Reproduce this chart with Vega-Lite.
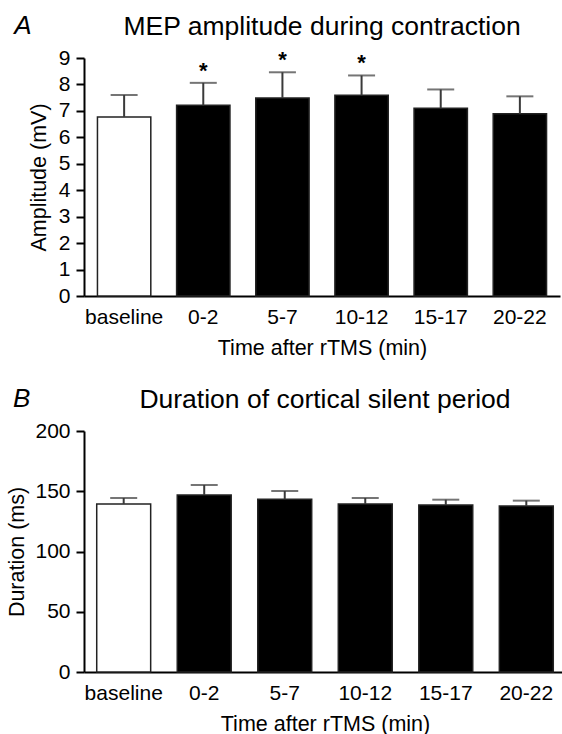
{
  "$schema": "https://vega.github.io/schema/vega-lite/v6.json",
  "background": "white",
  "padding": {"left": 6, "top": 12, "right": 0, "bottom": 0},
  "config": {
    "font": "Liberation Sans",
    "view": {"stroke": null},
    "axis": {
      "grid": false,
      "domainColor": "black",
      "domainWidth": 2,
      "tickColor": "black",
      "tickWidth": 2,
      "tickSize": 8,
      "labelColor": "black",
      "labelFont": "Liberation Sans",
      "labelFontSize": 21,
      "labelOverlap": false,
      "titleColor": "black",
      "titleFont": "Liberation Sans",
      "titleFontSize": 21.5,
      "titleFontWeight": "normal"
    },
    "axisX": {"ticks": false, "labelAngle": 0, "labelPadding": 10, "titlePadding": 10},
    "axisY": {"labelPadding": 6},
    "title": {"font": "Liberation Sans", "fontWeight": "normal", "color": "black", "fontSize": 26.5},
    "concat": {"spacing": 26}
  },
  "vconcat": [
    {
      "title": {"text": "A", "anchor": "start", "fontStyle": "italic", "fontSize": 26, "dx": -14, "dy": 29},
      "vconcat": [
        {
          "width": 476,
          "height": 238,
          "title": {"text": "MEP amplitude during contraction", "anchor": "middle", "offset": 7},
          "data": {"values": [
            {"time": "baseline", "mean": 6.77, "hi": 7.60, "sig": ""},
            {"time": "0-2", "mean": 7.21, "hi": 8.06, "sig": "*"},
            {"time": "5-7", "mean": 7.49, "hi": 8.46, "sig": "*"},
            {"time": "10-12", "mean": 7.59, "hi": 8.34, "sig": "*"},
            {"time": "15-17", "mean": 7.10, "hi": 7.81, "sig": ""},
            {"time": "20-22", "mean": 6.89, "hi": 7.55, "sig": ""}
          ]},
          "encoding": {
            "x": {"field": "time", "type": "nominal", "sort": null,
                  "scale": {"paddingInner": 0.326, "paddingOuter": 0.17},
                  "axis": {"title": "Time after rTMS (min)"}}
          },
          "layer": [
            {
              "mark": {"type": "bar", "stroke": "#222", "strokeWidth": 1.5},
              "encoding": {
                "y": {"field": "mean", "type": "quantitative", "scale": {"domain": [0, 9], "nice": false},
                      "axis": {"title": "Amplitude (mV)", "values": [0,1,2,3,4,5,6,7,8,9], "titlePadding": 8}},
                "fill": {"condition": {"test": "datum.time === 'baseline'", "value": "white"}, "value": "black"}
              }
            },
            {
              "mark": {"type": "rule", "color": "#3a3a3a", "strokeWidth": 2},
              "encoding": {
                "y": {"field": "mean", "type": "quantitative",
                      "axis": {"title": "Amplitude (mV)", "values": [0,1,2,3,4,5,6,7,8,9], "titlePadding": 8}},
                "y2": {"field": "hi"}
              }
            },
            {
              "mark": {"type": "tick", "color": "#3a3a3a", "thickness": 2, "size": 27},
              "encoding": {
                "y": {"field": "hi", "type": "quantitative",
                      "axis": {"title": "Amplitude (mV)", "values": [0,1,2,3,4,5,6,7,8,9], "titlePadding": 8}}
              }
            },
            {
              "transform": [{"filter": "datum.sig === '*'"}],
              "mark": {"type": "text", "fontSize": 22, "fontWeight": "bold", "baseline": "alphabetic", "dy": -5, "color": "black"},
              "encoding": {
                "y": {"field": "hi", "type": "quantitative",
                      "axis": {"title": "Amplitude (mV)", "values": [0,1,2,3,4,5,6,7,8,9], "titlePadding": 8}},
                "text": {"field": "sig"}
              }
            }
          ]
        }
      ]
    },
    {
      "title": {"text": "B", "anchor": "start", "fontStyle": "italic", "fontSize": 26, "dx": 6, "dy": 29},
      "vconcat": [
        {
          "width": 482,
          "height": 241,
          "title": {"text": "Duration of cortical silent period", "anchor": "middle", "offset": 7},
          "data": {"values": [
            {"time": "baseline", "mean": 139.4, "hi": 144.4},
            {"time": "0-2", "mean": 146.9, "hi": 155.2},
            {"time": "5-7", "mean": 143.3, "hi": 150.2},
            {"time": "10-12", "mean": 139.4, "hi": 144.4},
            {"time": "15-17", "mean": 138.6, "hi": 143.0},
            {"time": "20-22", "mean": 137.8, "hi": 142.2}
          ]},
          "encoding": {
            "x": {"field": "time", "type": "nominal", "sort": null,
                  "scale": {"paddingInner": 0.33, "paddingOuter": 0.158},
                  "axis": {"title": "Time after rTMS (min)"}}
          },
          "layer": [
            {
              "mark": {"type": "bar", "stroke": "#222", "strokeWidth": 1.5},
              "encoding": {
                "y": {"field": "mean", "type": "quantitative", "scale": {"domain": [0, 200], "nice": false},
                      "axis": {"title": "Duration (ms)", "values": [0, 50, 100, 150, 200], "titlePadding": 6}},
                "fill": {"condition": {"test": "datum.time === 'baseline'", "value": "white"}, "value": "black"}
              }
            },
            {
              "mark": {"type": "rule", "color": "#3a3a3a", "strokeWidth": 2},
              "encoding": {
                "y": {"field": "mean", "type": "quantitative",
                      "axis": {"title": "Duration (ms)", "values": [0, 50, 100, 150, 200], "titlePadding": 6}},
                "y2": {"field": "hi"}
              }
            },
            {
              "mark": {"type": "tick", "color": "#3a3a3a", "thickness": 2, "size": 27},
              "encoding": {
                "y": {"field": "hi", "type": "quantitative",
                      "axis": {"title": "Duration (ms)", "values": [0, 50, 100, 150, 200], "titlePadding": 6}}
              }
            }
          ]
        }
      ]
    }
  ]
}
